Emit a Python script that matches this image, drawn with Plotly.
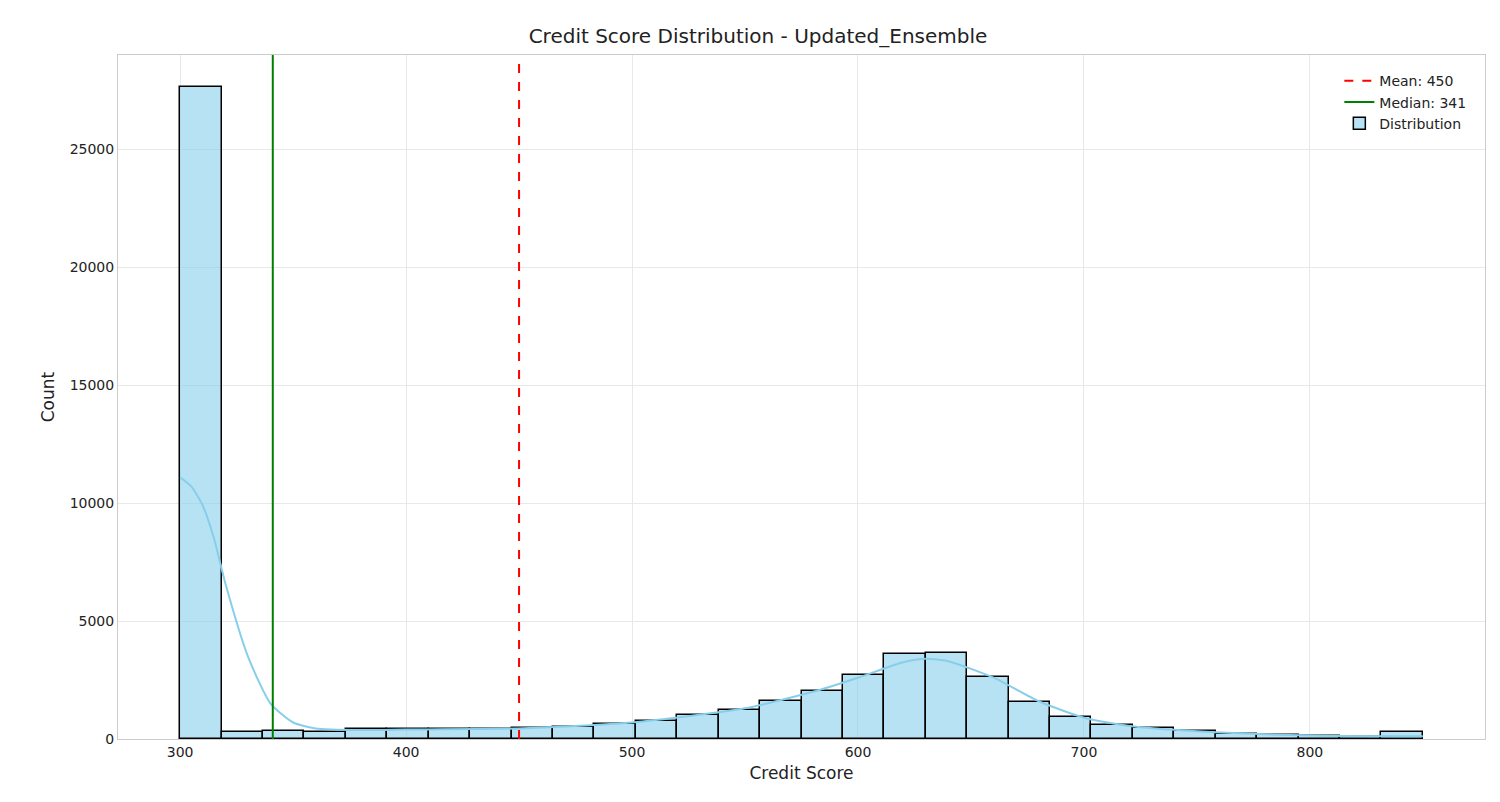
import numpy as np
import plotly.graph_objects as go

# histogram: 30 bins from 300 to 850
bin_start = 300
bin_end = 850
n_bins = 30
counts = [27650, 300, 350, 300, 420, 420, 420, 440, 470, 500,
          620, 750, 1000, 1250, 1600, 2050, 2700, 3600, 3650, 2650,
          1550, 950, 600, 450, 330, 230, 170, 120, 80, 280]

# kde curve
kde_x = [300, 305, 310, 315, 320, 330, 340, 350, 360, 380, 400, 450, 500, 550, 580,
         600, 620, 630, 640, 660, 680, 700, 720, 750, 800, 850]
kde_y = [11100, 10700, 9900, 8500, 6600, 3500, 1500, 700, 450, 380, 400, 450, 700,
         1300, 2000, 2600, 3250, 3400, 3300, 2600, 1600, 900, 550, 330, 150, 120]

mean_val = 450
median_val = 341

width = (bin_end - bin_start) / n_bins
edges = np.linspace(bin_start, bin_end, n_bins + 1)
centers = (edges[:-1] + edges[1:]) / 2

fig = go.Figure()

fig.add_trace(go.Bar(
    x=centers, y=counts, width=width, name='Distribution',
    marker=dict(color='rgba(135,206,235,0.6)', line=dict(color='black', width=1.5)),
    legendrank=3
))

fig.add_trace(go.Scatter(
    x=kde_x, y=kde_y, mode='lines', line=dict(color='skyblue', width=2, shape='spline', smoothing=0.6),
    showlegend=False, hoverinfo='skip'
))

fig.add_trace(go.Scatter(
    x=[mean_val, mean_val], y=[0, 29000], mode='lines', name=f'Mean: {mean_val}',
    line=dict(color='red', dash='dash', width=2), legendrank=1
))

fig.add_trace(go.Scatter(
    x=[median_val, median_val], y=[0, 29000], mode='lines', name=f'Median: {median_val}',
    line=dict(color='green', width=2), legendrank=2
))

fig.update_layout(
    width=1500, height=802,
    paper_bgcolor='white', plot_bgcolor='white',
    font=dict(family='DejaVu Sans', size=14, color='#222'),
    title=dict(text='Credit Score Distribution - Updated_Ensemble', x=0.5, y=0.965,
               xanchor='center', yanchor='middle', font=dict(size=20)),
    margin=dict(l=110, r=23, t=47, b=71),
    bargap=0,
    xaxis=dict(title=dict(text='Credit Score', font=dict(size=17), standoff=8),
               range=[272.5, 877.5], tickvals=[300, 400, 500, 600, 700, 800],
               showgrid=True, gridcolor='#e8e8e8', zeroline=False,
               showline=True, linecolor='#cccccc', mirror=True, ticks=''),
    yaxis=dict(title=dict(text='Count', font=dict(size=17), standoff=10),
               range=[0, 29000], tickvals=[0, 5000, 10000, 15000, 20000, 25000],
               tickformat='d',
               showgrid=True, gridcolor='#e8e8e8', zeroline=False,
               showline=True, linecolor='#cccccc', mirror=True, ticks=''),
    legend=dict(x=0.99, y=0.985, xanchor='right', yanchor='top',
                bgcolor='rgba(255,255,255,0.8)', font=dict(size=14)),
    showlegend=True
)

fig.write_html("out.html")
